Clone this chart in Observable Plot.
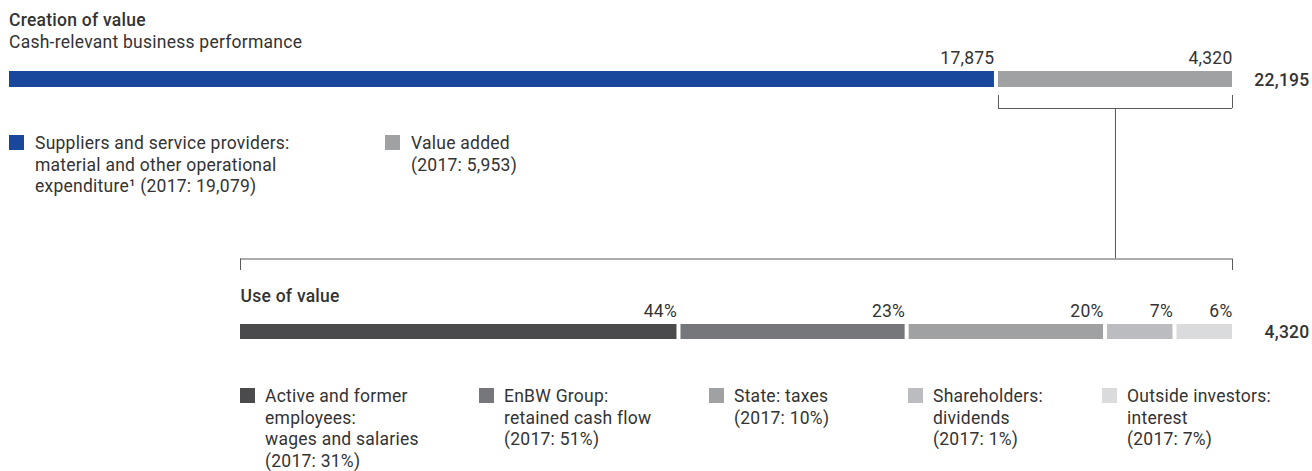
<!DOCTYPE html>
<html><head><meta charset="utf-8">
<script src="https://cdn.jsdelivr.net/npm/d3@7"></script>
<script src="https://cdn.jsdelivr.net/npm/@observablehq/plot@0.6"></script>
<style>
body{margin:0;background:#fff;}
#c{position:relative;width:1312px;height:471px;font-family:Roboto,sans-serif;color:#333;overflow:hidden;background:#fff}
.abs{position:absolute;white-space:pre;letter-spacing:0.25px}
svg{position:absolute;left:0;overflow:visible}
svg text{letter-spacing:0.25px}
</style></head><body><div id="c"></div>
<script>
// ---------- data ----------
const titleText = "Creation of value";
const subtitleText = "Cash-relevant business performance";
const useTitleText = "Use of value";

const creationNames = ["Suppliers and service providers", "Value added"];
const creationValues = [17875, 4320];
const creationTotal = 22195;
const creationColors = ["#19479c", "#a0a1a3"];
const creationLegend = [
  "Suppliers and service providers:\nmaterial and other operational\nexpenditure\u00b9 (2017: 19,079)",
  "Value added\n(2017: 5,953)"
];

const useNames = ["Active and former employees", "EnBW Group", "State", "Shareholders", "Outside investors"];
const useShares = [44, 23, 20, 7, 6];
const useTotal = 4320;
const useColors = ["#4b4b4d", "#76777a", "#a0a1a3", "#bbbcbf", "#dadbdd"];
const useLegend = [
  "Active and former\nemployees:\nwages and salaries\n(2017: 31%)",
  "EnBW Group:\nretained cash flow\n(2017: 51%)",
  "State: taxes\n(2017: 10%)",
  "Shareholders:\ndividends\n(2017: 1%)",
  "Outside investors:\ninterest\n(2017: 7%)"
];

// ---------- layout (pixels) ----------
const W = 1312;
const FS = 17.5;
const TEXT = "#333";
const LINE = "#5a5a5a";
const LT = {left: 9, right: 1232, height: 262, labelBase: 63, barY1: 71, barY2: 87, totalBase: 85.5,
            tickY1: 95, bracketY: 108, joinY: 258.5, totalDx: 77};
const LB = {top: 250, left: 240, right: 1232, height: 100, bracketY: 8.5, tickY2: 20, titleBase: 51.5,
            labelBase: 66, barY1: 74, barY2: 89, totalBase: 87.5, totalDx: 77};
const legendTop = {x: [9, 385], sqTop: 135, base: 150, lh: 21.6, sq: 15, gap: 26};
const legendBottom = {x: [240, 479, 709, 908, 1102], sqTop: 388, base: 403, lh: 21.6, sq: 15, gap: 25};

const fmt = d3.format(",");
const c = document.getElementById("c");

function htmlText(str, x, base, opts = {}) {
  const fs = opts.fs || FS, lh = opts.lh || fs;
  const d = document.createElement("div");
  d.className = "abs";
  d.textContent = str;
  d.style.left = x + "px";
  d.style.fontSize = fs + "px";
  d.style.lineHeight = lh + "px";
  d.style.fontWeight = opts.weight || 400;
  d.style.color = TEXT;
  const firstBase = (lh - 1.172 * fs) / 2 + 0.928 * fs;
  d.style.top = (base - firstBase) + "px";
  c.appendChild(d);
}

const style = {background: "transparent", overflow: "visible", fontFamily: "Roboto, sans-serif", fontSize: FS + "px", color: TEXT};

// ---------- top bar ----------
const creation = creationNames.map((name, i) => ({
  name, value: creationValues[i], color: creationColors[i],
  x1: d3.sum(creationValues.slice(0, i)), x2: d3.sum(creationValues.slice(0, i + 1))
}));
const added = creation.slice(1);

const plotA = Plot.plot({
  width: W, height: LT.height,
  marginLeft: LT.left, marginRight: W - LT.right, marginTop: 0, marginBottom: 0,
  x: {domain: [0, creationTotal], axis: null},
  y: {type: "identity", axis: null},
  color: {type: "identity"},
  style,
  marks: [
    Plot.rect(creation.slice(0, 1), {x1: "x1", x2: "x2", y1: LT.barY1, y2: LT.barY2, fill: "color"}),
    Plot.rect(added, {x1: "x1", x2: "x2", y1: LT.barY1, y2: LT.barY2, fill: "color", insetLeft: 4}),
    Plot.text(creation, {x: "x2", y: LT.labelBase, text: d => fmt(d.value), textAnchor: "end", lineAnchor: "bottom", fontSize: FS, fill: TEXT}),
    Plot.text([creationTotal], {x: d => d, y: LT.totalBase, text: d => fmt(d), textAnchor: "end", lineAnchor: "bottom", dx: LT.totalDx, fontSize: FS, fontWeight: 500, fill: TEXT}),
    Plot.ruleY(added, {x1: "x1", x2: "x2", y: LT.bracketY, insetLeft: 4, stroke: LINE}),
    Plot.ruleX(added, {x: "x1", y1: LT.tickY1, y2: LT.bracketY, dx: 4, stroke: LINE}),
    Plot.ruleX(added, {x: "x2", y1: LT.tickY1, y2: LT.bracketY, stroke: LINE}),
    Plot.ruleX(added, {x: d => (d.x1 + d.x2) / 2, y1: LT.bracketY, y2: LT.joinY, dx: 2, stroke: LINE})
  ]
});
plotA.style.top = "0px";
c.appendChild(plotA);

// ---------- bottom bar ----------
const use = useNames.map((name, i) => ({
  name, share: useShares[i], color: useColors[i],
  x1: d3.sum(useShares.slice(0, i)), x2: d3.sum(useShares.slice(0, i + 1))
}));
const shareTotal = d3.sum(useShares);
const plotB = Plot.plot({
  width: W, height: LB.height,
  marginLeft: LB.left, marginRight: W - LB.right, marginTop: 0, marginBottom: 0,
  x: {domain: [0, shareTotal], axis: null},
  y: {type: "identity", axis: null},
  color: {type: "identity"},
  style,
  marks: [
    Plot.ruleY([0], {x1: 0, x2: shareTotal, y: LB.bracketY, stroke: LINE}),
    Plot.ruleX([0, shareTotal], {x: d => d, y1: LB.bracketY, y2: LB.tickY2, stroke: LINE}),
    Plot.text([useTitleText], {x: 0, y: LB.titleBase, text: d => d, textAnchor: "start", lineAnchor: "bottom", fontSize: FS, fontWeight: 500, fill: TEXT}),
    Plot.rect(use.slice(0, 1), {x1: "x1", x2: "x2", y1: LB.barY1, y2: LB.barY2, fill: "color"}),
    Plot.rect(use.slice(1), {x1: "x1", x2: "x2", y1: LB.barY1, y2: LB.barY2, fill: "color", insetLeft: 4}),
    Plot.text(use, {x: "x2", y: LB.labelBase, text: d => d.share + "%", textAnchor: "end", lineAnchor: "bottom", fontSize: FS, fill: TEXT}),
    Plot.text([useTotal], {x: shareTotal, y: LB.totalBase, text: d => fmt(d), textAnchor: "end", lineAnchor: "bottom", dx: LB.totalDx, fontSize: FS, fontWeight: 500, fill: TEXT})
  ]
});
plotB.style.top = LB.top + "px";
c.appendChild(plotB);

// ---------- titles ----------
htmlText(titleText, 9, 27, {weight: 500});
htmlText(subtitleText, 9, 49);

// ---------- legends ----------
function legend(labels, colors, L) {
  labels.forEach((lab, i) => {
    const s = document.createElement("div");
    s.className = "abs";
    s.style.left = L.x[i] + "px";
    s.style.top = L.sqTop + "px";
    s.style.width = L.sq + "px";
    s.style.height = L.sq + "px";
    s.style.background = colors[i];
    c.appendChild(s);
    htmlText(lab, L.x[i] + L.gap, L.base, {lh: L.lh});
  });
}
legend(creationLegend, creationColors, legendTop);
legend(useLegend, useColors, legendBottom);
</script></body></html>
